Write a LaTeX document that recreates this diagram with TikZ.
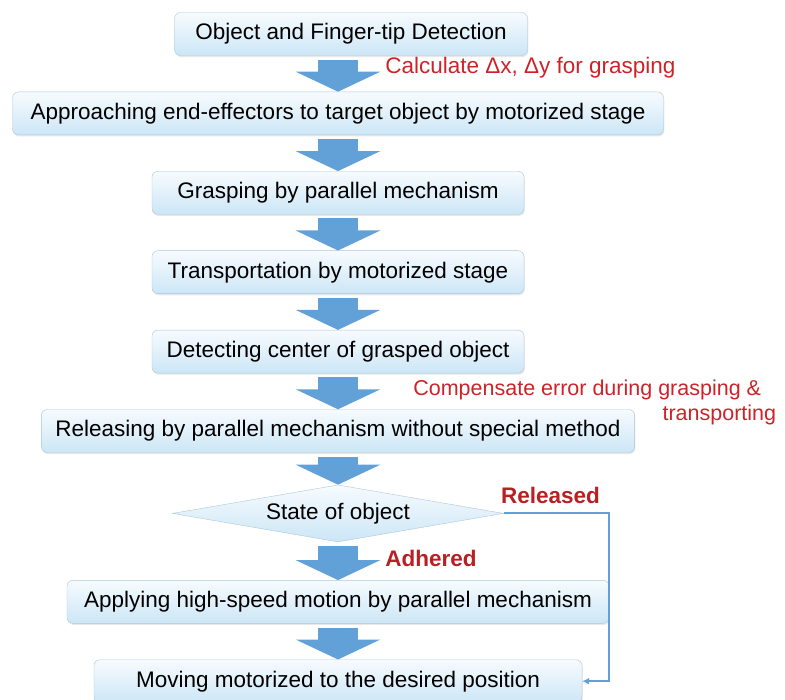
\documentclass[tikz,border=0pt]{standalone}
\usepackage{fontspec}
\setmainfont{Liberation Sans}
\usetikzlibrary{positioning, arrows.meta, shapes.geometric, shadows}

\definecolor{boxtop}{RGB}{247,251,254}
\definecolor{boxbot}{RGB}{204,230,246}
\definecolor{boxline}{RGB}{172,198,218}
\definecolor{flowblue}{RGB}{98,160,216}
\definecolor{notered}{RGB}{205,35,40}

\begin{document}
\begin{tikzpicture}[
    x=1pt, y=1pt,
    node distance=36pt,
    font=\fontsize{22.5}{25}\selectfont,
    box/.style={rectangle, rounded corners=6pt, draw=boxline, top color=boxtop,
        bottom color=boxbot, minimum height=43pt, inner xsep=14pt,
        drop shadow={shadow xshift=0.8pt, shadow yshift=-1.6pt, opacity=0.18}},
    decision/.style={diamond, aspect=5.8, draw=boxline, top color=boxtop,
        bottom color=boxbot, minimum width=331pt, minimum height=57pt, inner sep=0pt},
    flow/.style={line width=40pt, draw=flowblue,
        -{Triangle[width=84pt, length=20pt]}, shorten <=4pt},
    link/.style={line width=1.8pt, draw=flowblue, -{Latex[length=7pt, width=7pt]}},
    note/.style={text=notered, align=right, outer sep=0pt},
    branch/.style={text=notered!90!black, outer sep=0pt,
        font=\fontsize{22.5}{25}\selectfont\bfseries}
]
\useasboundingbox (0,0) rectangle (785,-700);

\node[box, minimum width=353pt] (detect) at (351,-34) {Object and Finger-tip Detection};
\node[box, minimum width=651pt, below=of detect, xshift=-13pt] (approach) {Approaching end-effectors to target object by motorized stage};
\node[box, minimum width=372pt, below=of approach] (grasp) {Grasping by parallel mechanism};
\node[box, minimum width=372pt, below=of grasp] (transport) {Transportation by motorized stage};
\node[box, minimum width=372pt, below=of transport] (center) {Detecting center of grasped object};
\node[box, minimum width=589pt, below=of center] (release) {Releasing by parallel mechanism without special method};
\node[decision, below=32pt of release] (state) {State of object};
\node[box, minimum width=542pt, below=38pt of state] (highspeed) {Applying high-speed motion by parallel mechanism};
\node[box, minimum width=488pt, below=of highspeed] (moving) {Moving motorized to the desired position};

\draw[flow] (detect.south -| approach.north) -- node[note, anchor=west, xshift=44pt, yshift=6pt] (calc) {Calculate Δx, Δy for grasping} (approach.north);
\draw[flow] (approach.south) -- (grasp.north);
\draw[flow] (grasp.south) -- (transport.north);
\draw[flow] (transport.south) -- (center.north);
\draw[flow] (center.south) -- node[note, anchor=west, xshift=72pt, yshift=-11pt, font=\fontsize{21.5}{25}\selectfont] (comp) {Compensate error during grasping \&\hspace*{15pt}\\transporting} (release.north);
\draw[flow] (release.south) -- (state.north);
\draw[flow] (state.south) -- node[branch, anchor=west, xshift=44pt, yshift=3pt] (adhered) {Adhered} (highspeed.north);
\draw[flow] (highspeed.south) -- (moving.north);

\draw[link] (state.east) -- node[branch, above=6pt, xshift=-6pt] (released) {Released} (state.east -| highspeed.east) |- (moving.east);
\end{tikzpicture}
\end{document}
